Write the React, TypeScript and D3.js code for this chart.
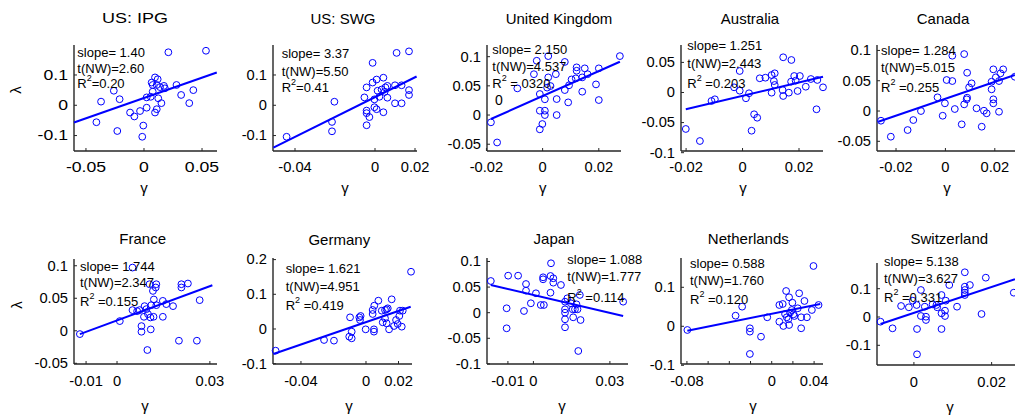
import React from 'react';
import * as d3 from 'd3';

// panel titles, in reading order
const panelTitles = ['US: IPG', 'US: SWG', 'United Kingdom', 'Australia', 'Canada',
  'France', 'Germany', 'Japan', 'Netherlands', 'Switzerland'];

// [gamma, lambda] pairs
const usIpg = [[0.0534,0.18],[0.021,0.175],[0.0095,0.092],[0.0118,0.086],[0.0066,0.075],[0.0075,0.067],[0.011,0.067],
  [0.0138,0.06],[0.0172,0.064],[0.018,0.056],[0.028,0.067],[0.0425,0.05],[0.032,0.034],[0.039,0.007],[0.015,0.007],
  [0.0123,0.023],[0.0058,0.028],[0.0023,0.026],[0.0075,0.045],[0.0023,-0.008],[0.011,-0.013],[0.0095,-0.024],
  [-0.0034,-0.019],[-0.012,-0.024],[-0.0083,-0.037],[-0.0006,-0.067],[-0.0015,-0.104],[-0.023,-0.085],[-0.041,-0.056],
  [-0.037,0.012],[-0.026,0.048],[-0.021,0.02]];
const usSwg = [[0.017,0.178],[0.0108,0.173],[-0.0012,0.14],[0.0042,0.091],[0.0008,0.085],[-0.0012,0.075],[-0.0042,0.059],
  [0.0013,0.048],[0.0033,0.052],[0.0052,0.059],[0.0062,0.064],[0.0048,0.044],[0.01,0.066],[0.0133,0.066],[0.017,0.05],
  [0.017,0.034],[0.01,0.0065],[0.0133,0.0065],[0.0062,0.025],[0.0022,0.028],[-0.0003,0.0195],[-0.0053,0.026],
  [-0.0003,-0.0065],[0.0008,-0.013],[-0.0042,-0.0176],[-0.0042,-0.026],[-0.0028,-0.039],[0.0042,-0.023],[-0.0042,-0.066],
  [-0.0203,0.0117],[-0.0215,-0.055],[-0.0215,-0.086],[-0.0442,-0.104]];
const uk = [[-0.0184,-0.0125],[-0.0162,-0.047],[-0.009,0.0457],[-0.0021,0.093],[-0.0031,0.07],[0.002,0.101],[0.0047,0.07],
  [0.0079,0.091],[0.002,0.0645],[0.0016,0.047],[0.0028,0.0497],[-0.001,0.036],[0.0008,0.027],[-0.001,0.0074],[0.0008,0.0074],
  [0.0008,0],[-0.0001,-0.0154],[-0.001,-0.0245],[0.005,0.0274],[0.005,0],[0.0091,0.0217],[0.0079,0.0428],[0.0094,0.051],
  [0.0103,0.061],[0.0118,0.0628],[0.0121,0.0759],[0.0121,0.0817],[0.0141,0.0645],[0.015,0.08],[0.016,0.07],[0.0141,0.04],
  [0.019,0.0525],[0.02,0.08],[0.02,0.0257],[0.0275,0.101]];
const australia = [[-0.0201,-0.0606],[-0.0151,-0.0806],[-0.011,-0.0141],[-0.0098,-0.0113],[-0.001,0.0357],[-0.003,0.0086],
  [-0.001,0.003],[0.0012,-0.0096],[0.0023,-0.0013],[0.0041,-0.0362],[0.0052,-0.0419],[0.0032,-0.0635],[0.0061,0.0236],
  [0.0081,0.0246],[0.0103,0.029],[0.0114,0.0319],[0.0111,0.019],[0.0114,0.0125],[0.0103,-0.0003],[0.0144,0.0585],
  [0.0173,0.054],[0.0142,0.004],[0.0144,-0.0058],[0.0164,-0.0003],[0.0172,0.018],[0.0183,0.0274],[0.0188,0.0196],
  [0.0203,0.0274],[0.0195,0.0025],[0.0224,0.0096],[0.0242,0.0224],[0.0262,-0.0279],[0.0285,0.0086],[0.0265,0.0208]];
const canada = [[-0.0261,-0.016],[-0.0221,-0.0424],[-0.0153,-0.0314],[-0.013,-0.0149],[-0.0099,0],[-0.0032,0.0226],
  [-0.0002,0.0127],[-0.0011,-0.0078],[0.0005,0.0512],[0.0028,0.0495],[0.0028,0.0913],[0.0076,0.094],[0.0038,0.0033],
  [0.0066,-0.022],[0.0076,0.011],[0.0086,0.0193],[0.0088,0.022],[0.0088,0.0632],[0.0096,0.0391],[0.0106,0.0457],
  [0.0126,0.0045],[0.0147,-0.0259],[0.0156,0.0005],[0.0167,-0.0038],[0.0187,0.0358],[0.0187,0.0484],[0.0194,0.0688],
  [0.0194,0.0193],[0.0194,0.0127],[0.0204,0.0556],[0.0217,-0.0012],[0.0217,0.0495],[0.0223,0.0622],[0.0234,0.0688],
  [0.0281,0.0566]];
const france = [[-0.012,-0.0051],[0.0009,0.0149],[0.005,0.0972],[0.005,0.0318],[0.0065,0.0302],[0.0073,0.0318],
  [0.0079,0.0072],[0.0079,-0.0015],[0.0089,0.0379],[0.0087,0.0215],[0.01,0.0256],[0.0095,0.0333],[0.0098,-0.0296],
  [0.0109,0.0021],[0.0108,0.0205],[0.0105,0.0716],[0.0116,0.0613],[0.0111,0.0394],[0.0119,0.0481],[0.0118,0.0215],
  [0.0127,0.0716],[0.0125,0.0666],[0.0127,0.0394],[0.0148,0.0215],[0.0148,0.046],[0.0159,0.041],[0.0181,0.0379],
  [0.02,-0.0153],[0.0208,0.0716],[0.0208,0.0666],[0.0229,0.0727],[0.0258,-0.0153],[0.0267,0.0471]];
const germany = [[-0.0556,-0.0625],[-0.0258,-0.0317],[-0.0197,-0.0336],[-0.0103,-0.0221],[-0.0088,-0.0269],[-0.0088,-0.0077],
  [-0.0098,0.0336],[-0.0041,0.0336],[-0.0037,0.0259],[-0.0033,0.0375],[-0.0002,-0.001],[0.0041,0.0548],[0.0041,0.0432],
  [0.0051,0.0672],[0.0076,0.0816],[0.0049,-0.001],[0.0049,-0.0077],[0.0097,0.0528],[0.0117,0.0548],[0.0127,0.0567],
  [0.0134,0.0596],[0.0103,0.0192],[0.0117,0.0307],[0.0127,0.0163],[0.0142,-0.001],[0.0158,0.0855],[0.0172,0.0086],
  [0.0185,0.0259],[0.0195,0.0144],[0.0205,0.0375],[0.0209,0.0528],[0.022,0.0067],[0.0226,0.0528],[0.0277,0.165]];
const japan = [[-0.0167,0.0619],[-0.0105,0.0086],[-0.0105,-0.0305],[-0.0099,0.0723],[-0.006,0.0723],[-0.0029,0.056],
  [-0.0029,0.043],[-0.0037,0.0033],[-0.001,0.0184],[0.001,0.0379],[0.0029,0.015],[0.0041,0.015],[0.0038,0.0652],
  [0.0038,0.0691],[0.0069,0.0965],[0.0067,0.039],[0.0067,0.0717],[0.0078,0.0672],[0.0078,0.0586],[0.0108,0.0541],
  [0.0124,0.0215],[0.0133,0.0281],[0.0124,0.0066],[0.0124,0],[0.0124,-0.0129],[0.0124,-0.0285],[0.0154,0.0066],
  [0.0156,-0.009],[0.0163,0.0066],[0.0169,0.0164],[0.0173,0.0066],[0.0147,0.0184],[0.0182,0.0346],[0.0185,-0.0143],
  [0.0176,-0.0748],[0.0352,0.0215]];
const netherlands = [[-0.0796,-0.0095],[-0.0341,0.0272],[-0.0279,0.0503],[-0.0206,-0.0051],[-0.0206,-0.0138],[-0.0206,-0.071],
  [-0.0101,-0.0267],[-0.0042,0.0231],[0.0072,0.0546],[0.0104,0.0572],[0.0136,0.0905],[0.0164,0.0744],[0.0195,0.0605],
  [0.0072,0.0118],[0.011,0.0008],[0.0126,0.0315],[0.0142,0.0231],[0.0157,0.018],[0.0164,0.0033],[0.0173,0.0349],
  [0.019,0.0418],[0.0205,0.0308],[0.0214,0.0264],[0.0246,0.0462],[0.0259,0.0846],[0.0278,0.0231],[0.0278,-0.0051],
  [0.0309,0.0649],[0.0332,0.0231],[0.0379,0.0418],[0.0394,0.1546],[0.0442,0.0546]];
const switzerland = [[-0.0086,-0.0166],[-0.0055,-0.04],[-0.0033,0.0389],[-0.0013,0.0343],[-0.0003,0.0576],[0.0007,0.0424],
  [0.0008,-0.0424],[0.0008,-0.1318],[0.0018,0.0954],[0.0018,0.0035],[0.0028,0.0364],[0.0031,0.001],[0.0031,-0.0106],
  [0.0048,0.0448],[0.0058,0.0424],[0.006,0.0343],[0.0071,0.0777],[0.0071,0.013],[0.0071,-0.0424],[0.008,0.0223],
  [0.008,0.0035],[0.0082,0.0576],[0.0091,0.113],[0.0111,0.0364],[0.0131,0.158],[0.0131,0.1071],[0.0131,0.0954],
  [0.0131,0.0859],[0.0131,0.0777],[0.0144,0.113],[0.0174,0.0106],[0.0185,0.1389],[0.0257,0.0859]];

// fitted line end points [[gamma0, lambda0], [gamma1, lambda1]]
const fitLines = [
  [[-0.0603, -0.057], [0.0627, 0.108]],
  [[-0.0508, -0.14], [0.0208, 0.095]],
  [[-0.0184, -0.0068], [0.0275, 0.0913]],
  [[-0.0201, -0.0279], [0.0285, 0.026]],
  [[-0.0272, -0.0177], [0.0281, 0.0594]],
  [[-0.012, -0.0051], [0.0308, 0.0701]],
  [[-0.057, -0.072], [0.0275, 0.0643]],
  [[-0.0167, 0.0541], [0.0352, -0.0066]],
  [[-0.0796, -0.0113], [0.0458, 0.0572]],
  [[-0.0086, -0.0247], [0.026, 0.1332]],
];

const slopeLabels = ['1.40', '3.37', '2.150', '1.251', '1.284', '1.744', '1.621', '1.088', '0.588', '5.138'];
const tLabels = ['2.60', '5.50', '4.537', '2.443', '5.015', '2.347', '4.951', '1.777', '1.760', '3.627'];
const r2Labels = ['=0.20', '=0.41', ' = 0320.', ' =0.203', ' =0.255', ' =0.155', ' =0.419', ' =0.114', ' =0.120', ' =0.331'];

const xDomains = [[-0.0603, 0.0629], [-0.051, 0.021], [-0.0198, 0.0279], [-0.0218, 0.0285], [-0.0277, 0.0302],
  [-0.0139, 0.0323], [-0.0572, 0.0283], [-0.0182, 0.0371], [-0.0856, 0.0484], [-0.0095, 0.0273]];
const yDomains = [[-0.151, 0.199], [-0.151, 0.199], [-0.0616, 0.12], [-0.0972, 0.0789], [-0.066, 0.109],
  [-0.0511, 0.1104], [-0.1009, 0.2046], [-0.1002, 0.1068], [-0.0967, 0.1751], [-0.1696, 0.1908]];

const xTickLabels = [[-0.05, 0, 0.05], [-0.04, 0, 0.02], [-0.02, 0, 0.02], [-0.02, 0, 0.02], [-0.02, 0, 0.02],
  [-0.01, 0, 0.03], [-0.04, 0, 0.02], [-0.01, 0, 0.03], [-0.08, 0, 0.04], [0, 0.02]];
const xTickMarks = [[-0.05, 0, 0.05], [-0.04, 0, 0.02], [-0.02, 0, 0.02], [-0.02, 0, 0.02], [-0.02, 0, 0.02],
  [-0.01, 0, 0.03], [-0.04, 0, 0.02], [-0.01, 0, 0.03], [-0.08, -0.06, -0.04, -0.02, 0, 0.02, 0.04], [0, 0.02]];
const yTickLabels = [[-0.1, 0, 0.1], [-0.1, 0, 0.1], [-0.05, 0, 0.05, 0.1], [-0.1, -0.05, 0, 0.05], [-0.05, 0, 0.05, 0.1],
  [-0.05, 0, 0.05, 0.1], [-0.1, 0, 0.1, 0.2], [-0.1, -0.05, 0, 0.05, 0.1], [-0.1, 0, 0.1], [-0.1, 0, 0.1]];

// layout: plot box [left, top, right, bottom]
const boxes = [[74, 45, 217, 151], [273, 45, 417, 151], [487, 45, 621, 151], [681, 45, 823, 151], [877, 45, 1020, 151],
  [74, 259, 217, 364], [273, 258, 412, 364], [487, 258, 628, 364], [681, 258, 823, 364], [877, 263, 1020, 365]];
const titlePos = [[135, 18], [343, 18], [559, 18], [750, 18], [943, 18],
  [142.7, 238.3], [339.3, 239], [554, 238.3], [748.3, 238.3], [949.3, 238.3]];
const statPos = [[77.3, 52.7, 68.3, 83.3], [281.7, 53.3, 71, 87.3], [492.3, 49.3, 66.7, 82.7], [687.3, 45.7, 63.3, 82.7],
  [881, 50, 67.7, 87.3], [80, 266, 282.7, 300.7], [285.7, 268.3, 286, 305], [567.3, 259.3, 276, 297],
  [690, 263.3, 280.7, 299.3], [884, 261, 278.3, 297.3]];
const gammaLabelX = [144, 345, 542.7, 743, 947, 145, 349, 562, 753, 950];
// the first panel's text is drawn a little wider than the rest
const textStretch = [1.2, 1, 1, 1, 1, 1, 1, 1, 1, 1];

const datasets = [usIpg, usSwg, uk, australia, canada, france, germany, japan, netherlands, switzerland];

const FONT = '"Liberation Sans", Arial, Helvetica, sans-serif';
const BLUE = '#0000ff';
const AXIS = '#262626';

const Txt = ({ x, y, size, sx = 1, anchor = 'start', baseline = 'central', rotate = 0, children }: any) => (
  <text
    transform={`translate(${x},${y}) rotate(${rotate}) scale(${sx},1)`}
    fontSize={size}
    fontFamily={FONT}
    textAnchor={anchor}
    dominantBaseline={baseline}
    fill="#000"
    style={{ whiteSpace: 'pre' }}
  >
    {children}
  </text>
);

const Panel = ({ i }: { i: number }) => {
  const [l, t, r, b] = boxes[i];
  const x = d3.scaleLinear().domain(xDomains[i]).range([l, r]);
  const y = d3.scaleLinear().domain(yDomains[i]).range([b, t]);
  const [sx, s1, s2, s3] = statPos[i];
  const line = d3.line<number[]>().x(d => x(d[0])).y(d => y(d[1]));
  const row2 = i >= 5;
  const st = textStretch[i];
  return (
    <g>
      <Txt x={titlePos[i][0]} y={titlePos[i][1]} size={15} sx={st} anchor="middle">{panelTitles[i]}</Txt>
      {/* axes */}
      <line x1={l} x2={l} y1={t} y2={b} stroke={AXIS} strokeWidth={1.4} />
      <line x1={l} x2={r} y1={b} y2={b} stroke={AXIS} strokeWidth={1.4} />
      {yTickLabels[i].map(v => (
        <g key={'y' + v}>
          <line x1={l} x2={l + 3} y1={y(v)} y2={y(v)} stroke={AXIS} strokeWidth={1} />
          <Txt x={l - 6} y={y(v)} size={14} sx={st * 1.05} anchor="end">{String(v)}</Txt>
        </g>
      ))}
      {xTickMarks[i].map(v => (
        <line key={'xm' + v} x1={x(v)} x2={x(v)} y1={b} y2={b - 3} stroke={AXIS} strokeWidth={1} />
      ))}
      {xTickLabels[i].map(v => (
        <Txt key={'x' + v} x={x(v)} y={b + (row2 ? 17.5 : 16)} size={14} sx={st * 1.05} anchor="middle">{String(v)}</Txt>
      ))}
      <Txt x={gammaLabelX[i]} y={b + (row2 ? 47 : 42)} size={15} anchor="middle" baseline="auto">γ</Txt>
      {/* points */}
      {datasets[i].map((d, k) => (
        <circle key={k} cx={x(d[0])} cy={y(d[1])} r={3.4} fill="none" stroke={BLUE} strokeWidth={1} />
      ))}
      <path d={line(fitLines[i]) || ''} fill="none" stroke={BLUE} strokeWidth={2} />
      {/* stats */}
      <Txt x={sx} y={s1} size={13}>{'slope= ' + slopeLabels[i]}</Txt>
      <Txt x={sx} y={s2} size={13}>{'t(NW)=' + tLabels[i]}</Txt>
      <Txt x={sx} y={s3} size={13}>
        <tspan>R</tspan>
        <tspan dy={-5} fontSize={9}>2</tspan>
        <tspan dy={5}>{r2Labels[i]}</tspan>
      </Txt>
    </g>
  );
};

export default function App() {
  return (
    <svg width={1015} height={415} style={{ position: 'absolute', left: 0, top: 0, background: '#fff' }}>
      <rect width={1015} height={415} fill="#fff" />
      {panelTitles.map((_, i) => <Panel key={i} i={i} />)}
      <Txt x={15} y={90} size={15} anchor="middle" rotate={-90}>λ</Txt>
      <Txt x={16} y={305} size={15} anchor="middle" rotate={-90}>λ</Txt>
      {/* stray label inside the UK panel */}
      <Txt x={499} y={100} size={14} anchor="middle">0</Txt>
    </svg>
  );
}
